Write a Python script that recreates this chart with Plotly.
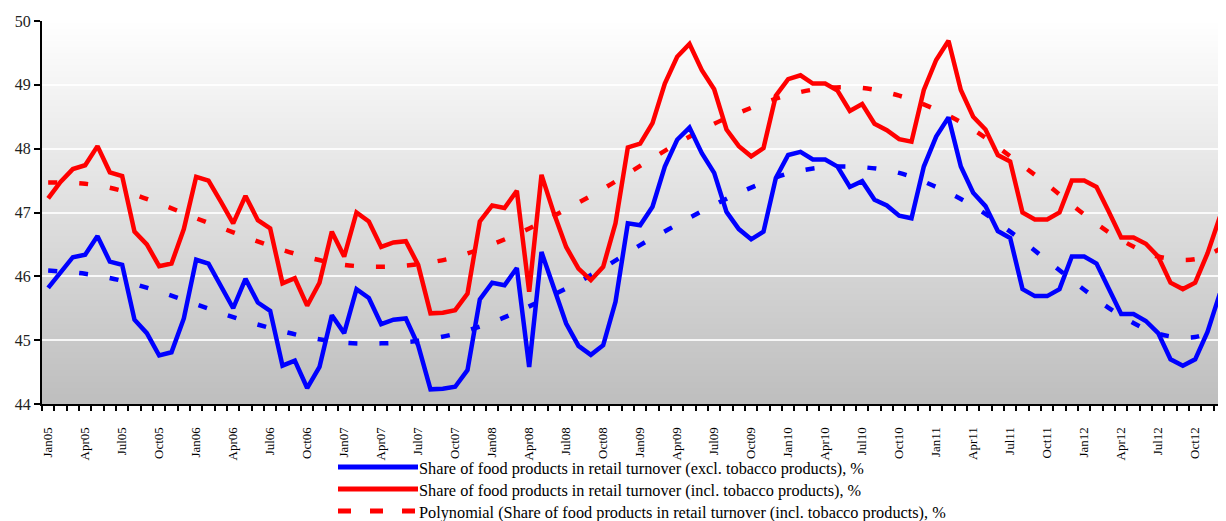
import base64, struct, zlib
import plotly.graph_objects as go

# ---------------- data ----------------
month_names = ["Jan", "Feb", "Mar", "Apr", "May", "Jun", "Jul", "Aug", "Sep", "Oct", "Nov", "Dec"]
years = ["05", "06", "07", "08", "09", "10", "11", "12"]
months = [m + y for y in years for m in month_names]

share_excl = [45.82, 46.07, 46.30, 46.34, 46.63, 46.23, 46.18, 45.32, 45.11, 44.76, 44.81, 45.34,
              46.26, 46.20, 45.86, 45.50, 45.96, 45.59, 45.46, 44.60, 44.68, 44.25, 44.58, 45.39,
              45.11, 45.80, 45.66, 45.25, 45.32, 45.34, 44.92, 44.23, 44.24, 44.27, 44.53, 45.64,
              45.90, 45.86, 46.13, 44.58, 46.38, 45.81, 45.26, 44.91, 44.77, 44.92, 45.60, 46.83,
              46.80, 47.09, 47.72, 48.14, 48.33, 47.93, 47.62, 47.01, 46.74, 46.58, 46.70, 47.54,
              47.90, 47.95, 47.83, 47.83, 47.72, 47.40, 47.49, 47.20, 47.11, 46.95, 46.91, 47.72,
              48.19, 48.49, 47.72, 47.31, 47.10, 46.71, 46.60, 45.80, 45.69, 45.69, 45.80, 46.31,
              46.31, 46.20, 45.81, 45.41, 45.41, 45.30, 45.11, 44.70, 44.60, 44.70, 45.13, 45.73]

share_incl = [47.22, 47.48, 47.68, 47.74, 48.04, 47.63, 47.57, 46.70, 46.50, 46.16, 46.20, 46.74,
              47.56, 47.50, 47.17, 46.83, 47.26, 46.88, 46.75, 45.89, 45.97, 45.54, 45.90, 46.70,
              46.31, 47.00, 46.86, 46.46, 46.53, 46.55, 46.18, 45.42, 45.43, 45.47, 45.73, 46.86,
              47.11, 47.07, 47.34, 45.76, 47.59, 46.99, 46.46, 46.12, 45.94, 46.15, 46.83, 48.02,
              48.08, 48.40, 49.02, 49.44, 49.64, 49.23, 48.93, 48.30, 48.04, 47.88, 48.01, 48.83,
              49.09, 49.15, 49.02, 49.02, 48.91, 48.59, 48.70, 48.39, 48.29, 48.15, 48.11, 48.92,
              49.39, 49.69, 48.92, 48.50, 48.30, 47.90, 47.80, 47.00, 46.89, 46.89, 47.00, 47.50,
              47.50, 47.40, 47.01, 46.61, 46.61, 46.51, 46.31, 45.90, 45.80, 45.90, 46.36, 46.93]

# polynomial trend lines at every third month (+ last month)
trend_idx = [0, 3, 6, 9, 12, 15, 18, 21, 24, 27, 30, 33, 36, 39, 42, 45, 48,
             51, 54, 57, 60, 63, 66, 69, 72, 75, 78, 81, 84, 87, 90, 93, 95]
trend_incl = [47.47, 47.45, 47.34, 47.14, 46.91, 46.69, 46.48, 46.30, 46.18, 46.15, 46.19,
              46.30, 46.50, 46.75, 47.05, 47.37, 47.73, 48.08, 48.39, 48.64, 48.84, 48.95,
              48.95, 48.83, 48.61, 48.30, 47.88, 47.44, 46.97, 46.57, 46.31, 46.27, 46.43]
trend_excl = [46.09, 46.04, 45.93, 45.76, 45.56, 45.36, 45.19, 45.05, 44.96, 44.95, 44.99,
              45.10, 45.28, 45.53, 45.81, 46.13, 46.49, 46.81, 47.12, 47.39, 47.61, 47.71,
              47.71, 47.62, 47.40, 47.10, 46.70, 46.25, 45.79, 45.38, 45.10, 45.05, 45.20]

tick_idx = list(range(0, len(months), 3))
tick_labels = [months[i] for i in tick_idx]

names = ["Share of food products in retail turnover (excl. tobacco products), %",
         "Share of food products in retail turnover (incl. tobacco products), %",
         "Polynomial (Share of food products in retail turnover (incl. tobacco products), %",
         "Polynomial (Share of food products in retail turnover (excl. tobacco products), %"]

BLUE = "#0000ff"
RED = "#ff0000"
SERIF = "Liberation Serif, Times New Roman, serif"

# ---------------- gradient background image ----------------
def gradient_png(h=256, top=255, bottom=190):
    raw = b"".join(b"\x00" + bytes([int(round(top + (bottom - top) * k / (h - 1)))]) for k in range(h))
    def chunk(tag, data):
        c = struct.pack(">I", len(data)) + tag + data
        return c + struct.pack(">I", zlib.crc32(tag + data) & 0xffffffff)
    png = b"\x89PNG\r\n\x1a\n"
    png += chunk(b"IHDR", struct.pack(">IIBBBBB", 1, h, 8, 0, 0, 0, 0))
    png += chunk(b"IDAT", zlib.compress(raw))
    png += chunk(b"IEND", b"")
    return "data:image/png;base64," + base64.b64encode(png).decode()

x = list(range(len(months)))

fig = go.Figure()
fig.add_trace(go.Scatter(x=trend_idx, y=trend_excl, mode="lines", name=names[3],
                         line=dict(color=BLUE, width=4.5, dash="9px,22px", shape="spline")))
fig.add_trace(go.Scatter(x=trend_idx, y=trend_incl, mode="lines", name=names[2],
                         line=dict(color=RED, width=4.5, dash="9px,22px", shape="spline")))
fig.add_trace(go.Scatter(x=x, y=share_incl, mode="lines", name=names[1],
                         line=dict(color=RED, width=4.5)))
fig.add_trace(go.Scatter(x=x, y=share_excl, mode="lines", name=names[0],
                         line=dict(color=BLUE, width=4.5)))

# the page body adds an 8px offset; figure sized to fill the rest of the window
OFF = 8
W, H = 1226 - OFF, 521 - OFF
L, T = 42 - OFF, 21 - OFF
R, B = 0, 521 - 404
pw, ph = W - L - R, H - T - B

def px(xp):  # screenshot pixel -> paper x
    return (xp - OFF - L) / pw

def py(yp):  # screenshot pixel -> paper y
    return (H - B - (yp - OFF)) / ph

shapes = []
annotations = []
legend_rows = [(467, BLUE, "solid", names[0]),
               (489, RED, "solid", names[1]),
               (511, RED, "13px,19px", names[2])]
for yp, col, dash, label in legend_rows:
    shapes.append(dict(type="line", xref="paper", yref="paper",
                       x0=px(338), x1=px(418), y0=py(yp), y1=py(yp),
                       line=dict(color=col, width=5, dash=dash)))
    annotations.append(dict(xref="paper", yref="paper", x=px(417), y=py(yp + 1),
                            xanchor="left", yanchor="middle", showarrow=False,
                            text=label, font=dict(family=SERIF, size=16.3, color="#000")))

fig.update_layout(
    width=W, height=H,
    margin=dict(l=L, r=R, t=T, b=B, pad=0),
    paper_bgcolor="white", plot_bgcolor="white",
    showlegend=False,
    shapes=shapes, annotations=annotations,
    images=[dict(source=gradient_png(), xref="paper", yref="paper", x=0, y=1,
                 sizex=1, sizey=1, xanchor="left", yanchor="top",
                 sizing="stretch", layer="below")],
    xaxis=dict(range=[-0.5, len(months) - 0.5], tickmode="array", tickvals=tick_idx,
               ticktext=tick_labels, tickangle=-90, ticks="outside", ticklen=16,
               tickcolor="rgba(0,0,0,0)", showgrid=False, automargin=False,
               showline=True, linecolor="black", linewidth=2, zeroline=False,
               tickfont=dict(family=SERIF, size=13, color="#000"),
               minor=dict(tickmode="linear", tick0=-0.5, dtick=1, ticks="outside",
                          ticklen=5, tickwidth=2, tickcolor="black", showgrid=False)),
    yaxis=dict(range=[44, 50], tickmode="linear", tick0=44, dtick=1, automargin=False,
               ticks="outside", ticklen=6, tickwidth=2, tickcolor="black",
               showline=True, linecolor="black", linewidth=2, zeroline=False,
               showgrid=True, gridcolor="rgba(255,255,255,0.85)", gridwidth=2,
               tickfont=dict(family=SERIF, size=16, color="#222")),
)

fig.write_html("out.html")
